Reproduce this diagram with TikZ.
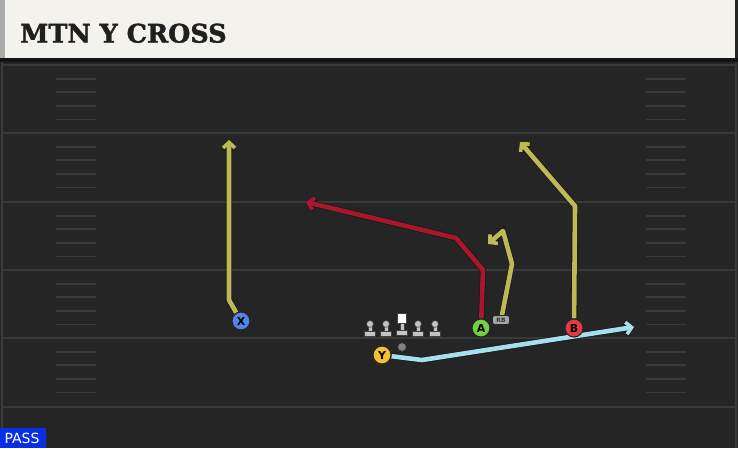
\documentclass[tikz,border=0pt]{standalone}
\usepackage{fontspec}
\setmainfont{DejaVu Sans}
\newfontfamily\titlefont[BoldFeatures={FakeBold=1.6}]{DejaVu Serif}
\usetikzlibrary{arrows.meta}
\definecolor{fieldbg}{HTML}{252525}
\definecolor{headerbg}{HTML}{F4F2EC}
\definecolor{yardc}{HTML}{393939}
\definecolor{hashc}{HTML}{3A3A3A}
\definecolor{olivec}{HTML}{BDB955}
\definecolor{redc}{HTML}{A8172E}
\definecolor{bluec}{HTML}{A6E0EE}
\definecolor{xblue}{HTML}{4C86E6}
\definecolor{yyellow}{HTML}{F2C12E}
\definecolor{agreen}{HTML}{72D33C}
\definecolor{bred}{HTML}{E53B3F}
\definecolor{passblue}{HTML}{0A2EE6}
\definecolor{linem}{HTML}{C4C4C4}
\tikzset{
  route/.style={line width=4.6pt, line join=round, -{Straight Barb[length=5.5pt,width=12pt,line width=3.6pt]},
    preaction={draw=black!90, line width=6.2pt, -{Straight Barb[length=5.5pt,width=12pt,line width=5.2pt]}}},
  player/.style={circle, minimum size=18pt, inner sep=0pt, draw=black!85, line width=1.1pt,
    font=\bfseries\fontsize{11}{11}\selectfont, text=black},
  rbbox/.style={rounded corners=2.5pt, fill=black!35, draw=black!85, line width=0.7pt, minimum width=17pt,
    minimum height=9pt, inner sep=0pt, font=\bfseries\fontsize{6}{6}\selectfont, text=black!80},
  yardline/.style={draw=yardc, line width=2.2pt},
  hashline/.style={draw=hashc, line width=1.8pt},
  olpart/.style={fill=linem, draw=black!75, line width=0.5pt},
}
\begin{document}
\begin{tikzpicture}[x=1pt,y=-1pt]
\useasboundingbox (0,0) rectangle (738,448);
\fill[fieldbg] (0,0) rectangle (738,448);
% side edges
\draw[yardc, line width=2pt] (2,60) -- (2,448);
\draw[yardc, line width=2pt] (736,60) -- (736,448);
% header
\fill[headerbg] (0,0) rectangle (735,58);
\fill[black!33] (0,0) rectangle (5,58);
\fill[black!92] (0,58) rectangle (738,61.5);
\node[anchor=base west, inner sep=0pt, font=\titlefont\bfseries\fontsize{25.5}{25.5}\selectfont, text=black!88] (title) at (20,42.5) {MTN Y CROSS};
% yard lines and hashes
\foreach \y in {65,133,202,270,338,407} \draw[yardline] (3,\y) -- (735,\y);
\foreach \y in {65,133,202,270,338} {
  \foreach \k in {1,...,4} {
    \draw[hashline] (56,\y+\k*13.6) -- (96,\y+\k*13.6);
    \draw[hashline] (646,\y+\k*13.6) -- (686,\y+\k*13.6);
  }
}
% pass label
\fill[passblue] (0,428) rectangle (46,448);
\node[font=\fontsize{14}{14}\selectfont, text=white, inner sep=0pt] (pass) at (22,438.5) {PASS};
% players (placed first for anchors)
\node[player, fill=xblue] (X) at (241,321) {X};
\node[player, fill=yyellow] (Y) at (382,355) {Y};
\node[player, fill=agreen] (A) at (481,328) {A};
\node[player, fill=bred] (B) at (574,328) {B};
\node[rbbox] (RB) at (501,320) {RB};
% route waypoints
\coordinate (x1) at (229,300); \coordinate (xend) at (229,140);
\coordinate (y1) at (422,360); \coordinate (yend) at (634,327);
\coordinate (a1) at (483,270); \coordinate (a2) at (456,238); \coordinate (aend) at (306,202);
\coordinate (b1) at (575,206); \coordinate (bend) at (520,142);
\coordinate (r1) at (512,264); \coordinate (r2) at (503,231); \coordinate (rend) at (488,244);
\draw[route, olivec] (X) -- (x1) -- (xend);
\draw[route, bluec] (Y) -- (y1) -- (yend);
\draw[route, redc] (A) -- (a1) -- (a2) -- (aend);
\draw[route, olivec] (B) -- (b1) -- (bend);
\draw[route, olivec] (RB) -- (r1) -- (r2) -- (rend);
% redraw players on top of routes
\node[player, fill=xblue] at (X) {X};
\node[player, fill=yyellow] at (Y) {Y};
\node[player, fill=agreen] at (A) {A};
\node[player, fill=bred] at (B) {B};
\node[rbbox] at (RB) {RB};
% offensive line
\foreach \x in {370,386,418,435} {
  \filldraw[olpart] (\x-2.2,324) rectangle (\x+2.2,333);
  \filldraw[olpart] (\x-5.5,331.5) rectangle (\x+5.5,336.5);
  \filldraw[olpart] (\x,324) circle (3.4);
}
\filldraw[olpart] (399.8,322) rectangle (404.2,333);
\filldraw[olpart] (396.5,330.5) rectangle (407.5,335);
\filldraw[fill=white, draw=black!75, line width=0.5pt] (397,313.5) rectangle (406.5,323);
% ball
\node[circle, fill=black!50, draw=black!80, line width=0.5pt, minimum size=8.5pt, inner sep=0pt] (ball) at (402,347) {};
\end{tikzpicture}
\end{document}
